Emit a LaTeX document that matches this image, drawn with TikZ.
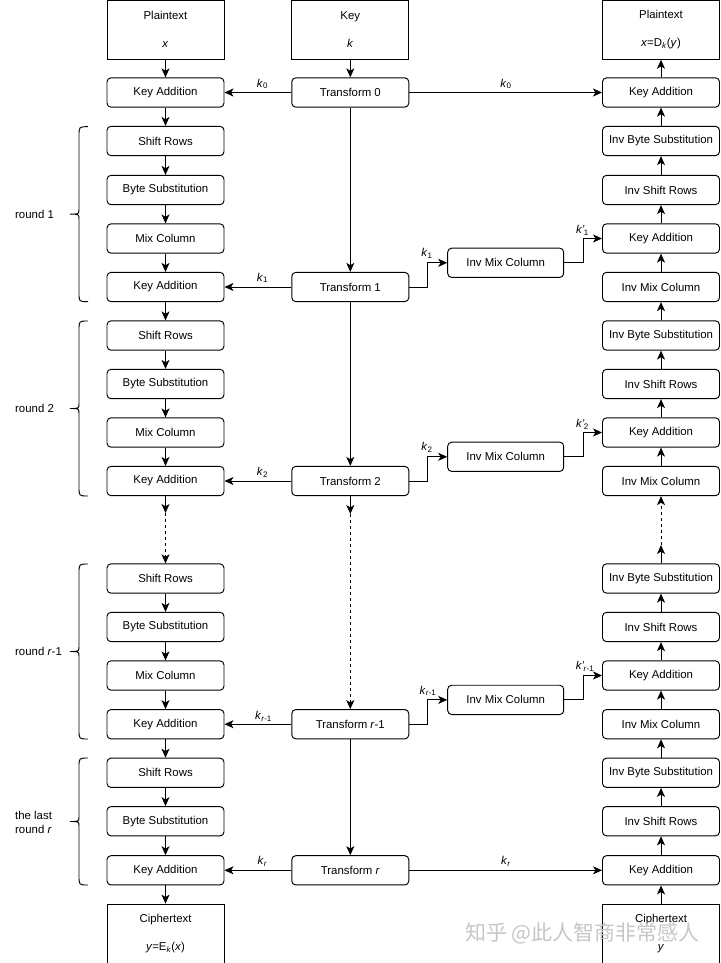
\documentclass[tikz,border=0pt]{standalone}
\usepackage{fontspec}
\setmainfont{Liberation Sans}
\newfontfamily\cjkfont{Noto Sans CJK SC}
\usetikzlibrary{arrows.meta,calc}
\tikzset{
 lw/.style={line width=0.95pt},
 rbox/.style={lw, draw, rounded corners=4pt, minimum width=117pt, minimum height=29.3pt, inner sep=0pt, font=\fontsize{11.4}{13.5}\selectfont},
 sbox/.style={lw, draw, minimum width=117pt, minimum height=59pt, inner sep=0pt, align=center, font=\fontsize{11.4}{13.5}\selectfont},
 arr/.style={lw, -{Stealth[length=9pt,width=8pt,inset=2.4pt]}},
 dsh/.style={arr, dash pattern=on 3pt off 3pt},
 klab/.style={font=\fontsize{11.4}{13}\selectfont, inner sep=0pt},
 rlab/.style={anchor=west, align=left, inner sep=0pt, font=\fontsize{11.4}{14}\selectfont},
}
\newcommand{\kk}[1]{\textit{k}\textsubscript{#1}}
\newcommand{\kp}[1]{\textit{k'}\kern-0.5pt\textsubscript{#1}}
\newcommand{\mybrace}[3]{\draw[lw] (88,#1) .. controls (79,#1) .. (79,#1+9) -- (79,#3-5) .. controls (79,#3) .. (70,#3) .. controls (79,#3) .. (79,#3+5) -- (79,#2-9) .. controls (79,#2) .. (88,#2);}
\begin{document}
\begin{tikzpicture}[x=1pt,y=-1pt]
\useasboundingbox (0,0) rectangle (720,963);
% ---------- left column ----------
\def\L{165.5}
\node[sbox] (pt) at (\L,29.8) {Plaintext\\[14.5pt]\textit{x}};
\node[rbox] (ka0) at (\L,92.5) {Key Addition};
\node[rbox] (sr1) at (\L,141) {Shift Rows};
\node[rbox] (bs1) at (\L,190) {Byte Substitution};
\node[rbox] (mc1) at (\L,238.5) {Mix Column};
\node[rbox] (ka1) at (\L,287) {Key Addition};
\node[rbox] (sr2) at (\L,335.5) {Shift Rows};
\node[rbox] (bs2) at (\L,384) {Byte Substitution};
\node[rbox] (mc2) at (\L,432.5) {Mix Column};
\node[rbox] (ka2) at (\L,481) {Key Addition};
\coordinate (ld) at (\L,513);
\node[rbox] (sr3) at (\L,578.5) {Shift Rows};
\node[rbox] (bs3) at (\L,627) {Byte Substitution};
\node[rbox] (mc3) at (\L,675.5) {Mix Column};
\node[rbox] (ka3) at (\L,724.2) {Key Addition};
\node[rbox] (sr4) at (\L,772.8) {Shift Rows};
\node[rbox] (bs4) at (\L,821.2) {Byte Substitution};
\node[rbox] (ka4) at (\L,870.3) {Key Addition};
\node[sbox] (ct) at (\L,933.6) {Ciphertext\\[14.5pt]\textit{y}=E\textsubscript{\textit{k}}(\textit{x})};
% ---------- center column ----------
\def\C{350.3}
\node[sbox] (key) at (\C,29.8) {Key\\[14.5pt]\textit{k}};
\node[rbox] (t0) at (\C,92.5) {Transform 0};
\node[rbox] (t1) at (\C,287) {Transform 1};
\node[rbox] (t2) at (\C,481) {Transform 2};
\coordinate (cd) at (\C,514);
\node[rbox] (t3) at (\C,724.2) {Transform \textit{r}-1};
\node[rbox] (t4) at (\C,870.3) {Transform \textit{r}};
% ---------- middle inv mix ----------
\node[rbox, minimum width=116pt] (im1) at (505.7,262.8) {Inv Mix Column};
\node[rbox, minimum width=116pt] (im2) at (505.7,456.8) {Inv Mix Column};
\node[rbox, minimum width=116pt] (im3) at (505.7,699.9) {Inv Mix Column};
% ---------- right column ----------
\def\R{661}
\node[sbox] (rpt) at (\R,29.8) {Plaintext\\[14.5pt]\textit{x}=D\textsubscript{\textit{k}}(\textit{y})};
\node[rbox] (rka0) at (\R,92.5) {Key Addition};
\node[rbox] (rbs1) at (\R,141) {Inv Byte Substitution};
\node[rbox] (rsr1) at (\R,190) {Inv Shift Rows};
\node[rbox] (rka1) at (\R,238.5) {Key Addition};
\node[rbox] (rmc1) at (\R,287) {Inv Mix Column};
\node[rbox] (rbs2) at (\R,335.5) {Inv Byte Substitution};
\node[rbox] (rsr2) at (\R,384) {Inv Shift Rows};
\node[rbox] (rka2) at (\R,432.5) {Key Addition};
\node[rbox] (rmc2) at (\R,481) {Inv Mix Column};
\coordinate (rd) at (\R,545);
\node[rbox] (rbs3) at (\R,578.5) {Inv Byte Substitution};
\node[rbox] (rsr3) at (\R,627) {Inv Shift Rows};
\node[rbox] (rka3) at (\R,675.5) {Key Addition};
\node[rbox] (rmc3) at (\R,724.2) {Inv Mix Column};
\node[rbox] (rbs4) at (\R,772.8) {Inv Byte Substitution};
\node[rbox] (rsr4) at (\R,821.2) {Inv Shift Rows};
\node[rbox] (rka4) at (\R,870.3) {Key Addition};
\node[sbox] (rct) at (\R,933.6) {Ciphertext\\[14.5pt]\textit{y}};
% ---------- left arrows ----------
\draw[arr] (pt) -- (ka0);
\draw[arr] (ka0) -- (sr1);
\draw[arr] (sr1) -- (bs1);
\draw[arr] (bs1) -- (mc1);
\draw[arr] (mc1) -- (ka1);
\draw[arr] (ka1) -- (sr2);
\draw[arr] (sr2) -- (bs2);
\draw[arr] (bs2) -- (mc2);
\draw[arr] (mc2) -- (ka2);
\draw[arr] (ka2) -- (ld);
\draw[dsh] (ld) -- (sr3);
\draw[arr] (sr3) -- (bs3);
\draw[arr] (bs3) -- (mc3);
\draw[arr] (mc3) -- (ka3);
\draw[arr] (ka3) -- (sr4);
\draw[arr] (sr4) -- (bs4);
\draw[arr] (bs4) -- (ka4);
\draw[arr] (ka4) -- (ct);
% ---------- center arrows ----------
\draw[arr] (key) -- (t0);
\draw[arr] (t0) -- (t1);
\draw[arr] (t1) -- (t2);
\draw[arr] (t2) -- (cd);
\draw[dsh] (cd) -- (t3);
\draw[arr] (t3) -- (t4);
% ---------- right arrows (upward) ----------
\draw[arr] (rct) -- (rka4);
\draw[arr] (rka4) -- (rsr4);
\draw[arr] (rsr4) -- (rbs4);
\draw[arr] (rbs4) -- (rmc3);
\draw[arr] (rmc3) -- (rka3);
\draw[arr] (rka3) -- (rsr3);
\draw[arr] (rsr3) -- (rbs3);
\draw[arr] (rbs3) -- (rd);
\draw[dsh] (rd) -- (rmc2);
\draw[arr] (rmc2) -- (rka2);
\draw[arr] (rka2) -- (rsr2);
\draw[arr] (rsr2) -- (rbs2);
\draw[arr] (rbs2) -- (rmc1);
\draw[arr] (rmc1) -- (rka1);
\draw[arr] (rka1) -- (rsr1);
\draw[arr] (rsr1) -- (rbs1);
\draw[arr] (rbs1) -- (rka0);
\draw[arr] (rka0) -- (rpt);
% ---------- key distribution ----------
\draw[arr] (t0) -- (ka0);
\draw[arr] (t0) -- (rka0);
\draw[arr] (t1) -- (ka1);
\draw[arr] (t2) -- (ka2);
\draw[arr] (t3) -- (ka3);
\draw[arr] (t4) -- (ka4);
\draw[arr] (t4) -- (rka4);
\draw[arr] (t1.east) -- ++(18,0) |- (im1.west);
\draw[arr] (t2.east) -- ++(18,0) |- (im2.west);
\draw[arr] (t3.east) -- ++(18,0) |- (im3.west);
\draw[arr] (im1.east) -- ++(19.6,0) |- (rka1.west);
\draw[arr] (im2.east) -- ++(19.6,0) |- (rka2.west);
\draw[arr] (im3.east) -- ++(19.6,0) |- (rka3.west);
% ---------- key labels ----------
\node[klab] (lk0) at (262.5,84) {\kk{0}};
\node[klab] (rk0) at (506,84) {\kk{0}};
\node[klab] (lk1) at (262.5,278) {\kk{1}};
\node[klab] (lk2) at (262.5,472) {\kk{2}};
\node[klab] (lk3) at (263.5,716.5) {\kk{\textit{r}-1}};
\node[klab] (lk4) at (262.5,861.5) {\kk{\textit{r}}};
\node[klab] (rk4) at (506,861.5) {\kk{\textit{r}}};
\node[klab] (mk1) at (427,253.5) {\kk{1}};
\node[klab] (mk2) at (427,447.5) {\kk{2}};
\node[klab] (mk3) at (428,691) {\kk{\textit{r}-1}};
\node[klab] (pk1) at (582.5,230.5) {\kp{1}};
\node[klab] (pk2) at (582.5,424.5) {\kp{2}};
\node[klab] (pk3) at (585,666.5) {\kp{\textit{r}-1}};
% ---------- braces and round labels ----------
\mybrace{126.7}{301.7}{214.2}
\mybrace{321}{496}{408.5}
\mybrace{564}{739}{651.5}
\mybrace{758}{885}{821.5}
\node[rlab] (r1) at (15,214.2) {round 1};
\node[rlab] (r2) at (15,408.5) {round 2};
\node[rlab] (r3) at (15,651.5) {round \textit{r}-1};
\node[rlab] (r4) at (15,822) {the last\\round \textit{r}};
% ---------- watermark ----------
\node[text=gray!45, inner sep=0pt, font=\cjkfont\fontsize{21}{24}\selectfont] (wm) at (582.5,933) {知乎 @此人智商非常感人};
\end{tikzpicture}
\end{document}
